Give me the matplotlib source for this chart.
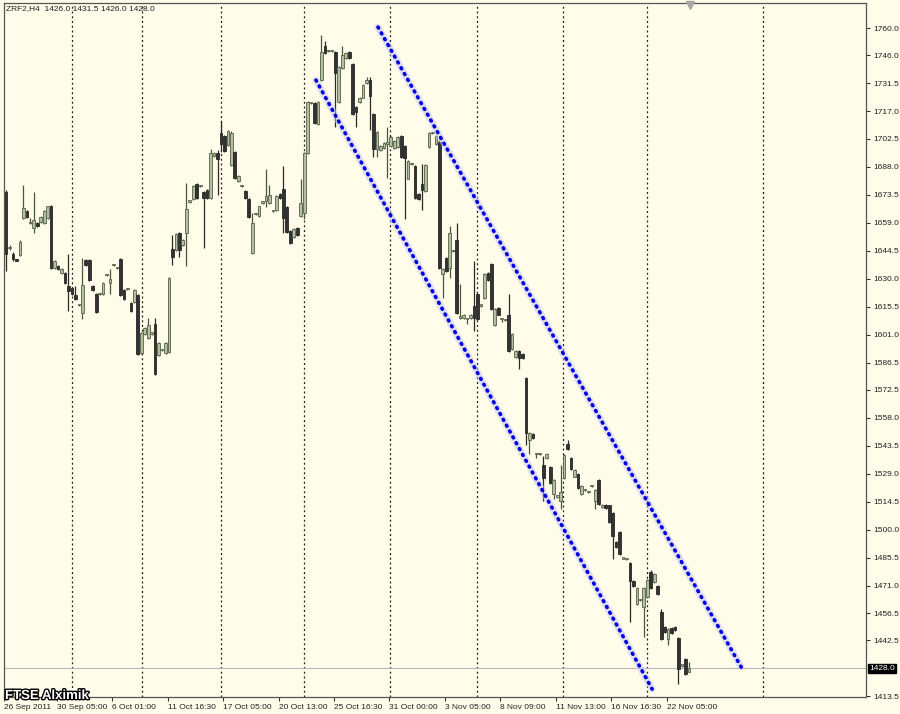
from matplotlib import pyplot as plt
from matplotlib import patheffects as pe
from matplotlib import transforms as mtransforms

# ZRF2 H4 candles, oldest first (bar index = position on the x axis)
opens = [1675, 1646, 1643, 1640, 1642.5, 1661.5, 1665, 1659, 1656.5, 1659,
         1659.5, 1659, 1661.5, 1667.5, 1635.5, 1636.5, 1633, 1633, 1626.5, 1625,
         1621.5, 1616.5, 1612.5, 1640, 1640, 1626.5, 1622, 1622, 1622, 1632,
         1628, 1637, 1635.5, 1640.5, 1624, 1624.5, 1617.5, 1618, 1621.5, 1591.5,
         1601.5, 1599.5, 1601.5, 1606.5, 1590.5, 1593, 1591.5, 1592, 1645.5, 1645,
         1654, 1647.5, 1654, 1670, 1671.5, 1679, 1678, 1675, 1676, 1672,
         1693.5, 1695, 1705.5, 1704, 1699.5, 1689, 1696, 1680.5, 1678, 1675.5,
         1671.5, 1643.5, 1663.5, 1662.5, 1669.5, 1670.5, 1669.5, 1665, 1665.5, 1674,
         1676.5, 1667, 1655, 1651.5, 1656.5, 1662.5, 1664, 1695, 1721, 1721,
         1710.5, 1733, 1750.5, 1748, 1748, 1747.5, 1721.5, 1739.5, 1744.5, 1747.5,
         1741.5, 1719, 1721.5, 1724, 1731.5, 1733, 1715.5, 1697.5, 1697, 1698,
         1700, 1699, 1698, 1698.5, 1704, 1699, 1682, 1689.5, 1688.5, 1674,
         1679, 1675.5, 1698.5, 1705.5, 1700, 1701, 1632.5, 1641, 1635.5, 1644.5,
         1650, 1609.5, 1609.5, 1609, 1609.5, 1616, 1622, 1616, 1620, 1633,
         1637.5, 1606, 1615, 1609, 1608.5, 1611.5, 1593.5, 1589.5, 1592.5, 1591,
         1578.5, 1546.5, 1549.5, 1539, 1539, 1533.5, 1537, 1532.5, 1518.5, 1517,
         1515, 1526.5, 1544.5, 1537, 1527.5, 1529, 1518.5, 1520.5, 1519.5, 1522.5,
         1515, 1525.5, 1511.5, 1513, 1512.5, 1508.5, 1493.5, 1499, 1485, 1484.5,
         1482.5, 1473.5, 1461.5, 1463.5, 1460, 1465, 1478, 1473, 1471, 1457.5,
         1449.5, 1443.5, 1449, 1449.5, 1444, 1429.5, 1433, 1426]
highs = [1676, 1647.5, 1644, 1640.5, 1650, 1678.5, 1665.5, 1661.5, 1675, 1659.5,
         1662.5, 1665.5, 1668, 1668.5, 1640, 1637, 1635.5, 1633.5, 1643, 1625.5,
         1626.5, 1617, 1641, 1640.5, 1640.5, 1627, 1622.5, 1622.5, 1628.5, 1632.5,
         1635, 1637.5, 1636, 1641, 1624.5, 1625, 1618, 1624.5, 1622, 1602.5,
         1605, 1609.5, 1602, 1609.5, 1597, 1593.5, 1597, 1631, 1652.5, 1653.5,
         1654.5, 1650.5, 1679.5, 1670.5, 1678.5, 1679.5, 1678.5, 1675.5, 1676.5, 1697.5,
         1695.5, 1697, 1712, 1704.5, 1707, 1706.5, 1696.5, 1684, 1678.5, 1676,
         1672, 1664, 1664, 1668, 1670, 1687, 1678.5, 1665.5, 1673.5, 1674.5,
         1688.5, 1667.5, 1655.5, 1656.5, 1657, 1682, 1695.5, 1722, 1721.5, 1721.5,
         1722, 1756.5, 1753.5, 1748.5, 1748.5, 1748, 1740.5, 1750.5, 1747.5, 1748,
         1742, 1719.5, 1724.5, 1731, 1734.5, 1734.5, 1716, 1706.5, 1699.5, 1701,
         1708.5, 1704, 1702, 1704, 1704.5, 1699.5, 1691.5, 1690, 1689, 1674.5,
         1689.5, 1689.5, 1706, 1706, 1704.5, 1702, 1635.5, 1641.5, 1657.5, 1645,
         1659, 1627.5, 1612, 1609.5, 1612, 1639.5, 1622.5, 1616.5, 1633, 1633.5,
         1638, 1615, 1615.5, 1609.5, 1609, 1622, 1602, 1593, 1593, 1591.5,
         1579, 1550.5, 1550, 1539.5, 1539.5, 1538, 1539.5, 1533, 1526, 1517.5,
         1533.5, 1539, 1546.5, 1537.5, 1531.5, 1529.5, 1523, 1521, 1520, 1523,
         1521, 1526, 1513.5, 1513.5, 1513, 1509, 1494, 1499.5, 1485.5, 1485,
         1483, 1474, 1470, 1464, 1470, 1474.5, 1479, 1477.5, 1471.5, 1459,
         1450, 1449, 1449.5, 1450, 1444.5, 1430, 1433.5, 1431.5]
lows = [1634, 1645, 1639.5, 1639, 1642, 1661, 1661.5, 1658.5, 1654, 1657,
        1659, 1658.5, 1661, 1635, 1635, 1634.5, 1632.5, 1627.5, 1613.5, 1621.5,
        1619, 1616, 1609, 1636.5, 1629, 1623.5, 1612.5, 1621.5, 1621.5, 1631.5,
        1622, 1636.5, 1635, 1621, 1619, 1624, 1613, 1617.5, 1590.5, 1591,
        1601, 1599, 1601, 1580, 1590, 1592.5, 1591, 1591.5, 1637, 1644.5,
        1641.5, 1647, 1636.5, 1669.5, 1671, 1671.5, 1677.5, 1646, 1671.5, 1671.5,
        1693, 1673.5, 1695.5, 1696, 1699, 1688.5, 1682, 1680, 1677.5, 1671.5,
        1661.5, 1643, 1663, 1662, 1669, 1667, 1669, 1664.5, 1665, 1671.5,
        1654, 1654, 1648, 1651, 1652, 1662, 1661, 1694.5, 1720.5, 1710.5,
        1710, 1732.5, 1746.5, 1747.5, 1747.5, 1708.5, 1721, 1739, 1744, 1744,
        1715, 1708.5, 1721, 1723.5, 1731, 1707, 1693, 1693, 1696.5, 1697.5,
        1682.5, 1698.5, 1697.5, 1698, 1692.5, 1661, 1681.5, 1689, 1671.5, 1671,
        1665.5, 1675, 1698, 1705, 1699.5, 1635, 1620, 1633.5, 1630.5, 1644,
        1612, 1609, 1609, 1606.5, 1609, 1603, 1608.5, 1615.5, 1619.5, 1629,
        1614, 1605.5, 1611, 1607.5, 1608, 1592, 1593, 1589, 1583.5, 1588.5,
        1544, 1539, 1547, 1537, 1538.5, 1515, 1536.5, 1523.5, 1516, 1516.5,
        1510.5, 1526, 1541.5, 1531, 1527, 1521, 1518, 1520, 1519, 1522,
        1510.5, 1513, 1511, 1510.5, 1503.5, 1484.5, 1490.5, 1487, 1484.5, 1484,
        1452, 1470, 1461, 1463, 1444.5, 1464.5, 1469, 1472.5, 1466, 1443,
        1446.5, 1440, 1446, 1447.5, 1420, 1429, 1424.5, 1426]
closes = [1643, 1646, 1640.5, 1639.5, 1649, 1666.5, 1662, 1659, 1660.5, 1657.5,
          1662, 1665, 1667.5, 1635.5, 1639.5, 1635, 1635, 1628, 1623.5, 1622,
          1619.5, 1616.5, 1627, 1637, 1629.5, 1624, 1613, 1622, 1628, 1632,
          1630, 1637, 1635.5, 1621.5, 1619.5, 1624.5, 1613.5, 1624, 1591, 1602,
          1604.5, 1606, 1601.5, 1580.5, 1596.5, 1593, 1596.5, 1630.5, 1641.5, 1653,
          1645, 1650, 1666, 1670, 1678, 1672, 1678, 1672, 1672, 1695,
          1695, 1692, 1700, 1696.5, 1706.5, 1705.5, 1682.5, 1683.5, 1678, 1672,
          1662, 1659, 1663.5, 1667.5, 1669.5, 1673, 1673.5, 1665, 1673, 1672,
          1661.5, 1654.5, 1648.5, 1656, 1652.5, 1669.5, 1695, 1721.5, 1721, 1711,
          1721.5, 1747.5, 1747, 1748, 1748, 1736.5, 1740, 1746, 1747, 1744.5,
          1715.5, 1716.5, 1724, 1730.5, 1733, 1725, 1697.5, 1706, 1699, 1700.5,
          1700, 1703.5, 1701.5, 1703.5, 1693, 1692.5, 1691, 1689.5, 1672, 1671.5,
          1676, 1689, 1705.5, 1705.5, 1704, 1635.5, 1635, 1634, 1653.5, 1644.5,
          1612.5, 1610.5, 1611.5, 1609, 1611.5, 1609.5, 1609, 1616, 1632.5, 1629.5,
          1614.5, 1614.5, 1611.5, 1609, 1608.5, 1592.5, 1601.5, 1592.5, 1589, 1589,
          1550, 1550, 1547.5, 1539, 1539, 1526.5, 1539, 1524, 1525.5, 1517,
          1519.5, 1538.5, 1542, 1531.5, 1531, 1521.5, 1522.5, 1520.5, 1519.5, 1522.5,
          1520.5, 1513.5, 1513, 1511, 1504, 1496.5, 1491, 1487.5, 1485, 1484.5,
          1473.5, 1470.5, 1469.5, 1463.5, 1469.5, 1474, 1469.5, 1477, 1466.5, 1443.5,
          1447, 1448.5, 1446.5, 1448, 1427.5, 1429.5, 1425, 1428]

# weekly period separators (bar positions)
separators = [19.1, 39.2, 62.0, 86.0, 110.8, 135.8, 160.8, 184.8, 218.5]

# time axis labels and their bar positions
date_pos = [-0.6, 14.6, 30.6, 46.6, 62.6, 78.6, 94.6, 110.6, 126.6, 142.6, 158.6, 174.6, 190.6]
date_labels = ["26 Sep 2011", "30 Sep 05:00", "6 Oct 01:00", "11 Oct 16:30", "17 Oct 05:00",
               "20 Oct 13:00", "25 Oct 16:30", "31 Oct 00:00", "3 Nov 05:00", "8 Nov 09:00",
               "11 Nov 13:00", "16 Nov 16:30", "22 Nov 05:00"]

price_ticks = [1760.0, 1746.0, 1731.5, 1717.0, 1702.5, 1688.0, 1673.5, 1659.0, 1644.5,
               1630.0, 1615.5, 1601.0, 1586.5, 1572.5, 1558.0, 1543.5, 1529.0, 1514.5,
               1500.0, 1485.5, 1471.0, 1456.5, 1442.5, 1413.5]

# hand drawn channel (bar position, price)
channel_low = ([89.4, 186.4], [1733.0, 1417.3])
channel_high = ([107.3, 212.1], [1760.5, 1428.7])

bid = closes[-1]

bg = '#fffcea'
plt.rcParams['font.family'] = ['Liberation Sans', 'DejaVu Sans']

fig = plt.figure(figsize=(9, 7.14), dpi=100)
fig.patch.set_facecolor(bg)
ax = fig.add_axes([4 / 900, 17 / 714, 862 / 900, 694 / 714])
ax.set_facecolor(bg)

# separators and bid line
for s in separators:
    ax.axvline(s, color='#222222', lw=0.9, ls=(0, (1.6, 2.2)), zorder=1)
ax.axhline(bid, color='#b8b8b8', lw=0.8, zorder=1)

# candles
x = list(range(len(opens)))
bull = [c >= o for o, c in zip(opens, closes)]
body_low = [min(o, c) for o, c in zip(opens, closes)]
body_h = [max(abs(c - o), 0.7) for o, c in zip(opens, closes)]
wick_col = ['#4a5540' if b else '#2a2a2a' for b in bull]
ax.vlines(x, lows, highs, colors=wick_col, lw=0.9, zorder=2)
face = ['#b3bf9f' if b else '#333333' for b in bull]
edge = ['#56614b' if b else '#262626' for b in bull]
ax.bar(x, body_h, bottom=body_low, width=0.78, color=face, edgecolor=edge,
       linewidth=0.6, zorder=3)

# channel lines: soft halo under blue dots
for xs, ys in (channel_low, channel_high):
    ax.plot(xs, ys, color='#c4c4f2', lw=5.0, alpha=0.5, solid_capstyle='round', zorder=4)
    ax.plot(xs, ys, color='#0000e0', lw=2.6, ls=(0, (0.3, 1.55)),
            dash_capstyle='round', zorder=5)

ax.set_xlim(-0.58, 248.1)
ax.set_ylim(1413.2, 1773.0)

ax.yaxis.tick_right()
ax.set_yticks(price_ticks)
ax.set_yticklabels(['%.1f' % p for p in price_ticks])
ax.set_xticks(date_pos)
ax.set_xticklabels(date_labels, ha='left')
ax.tick_params(axis='both', direction='out', length=3, width=0.8, colors='#333333',
               labelsize=6, labelcolor='#222222', pad=2)
for sp in ax.spines.values():
    sp.set_color('#555555')
    sp.set_linewidth(0.9)

# bid price label
trans = mtransforms.blended_transform_factory(ax.transAxes, ax.transData)
ax.text(1.004, bid, '%.1f' % bid, transform=trans, fontsize=6, color='white',
        va='center', ha='left', zorder=10,
        bbox=dict(boxstyle='square,pad=0.15', fc='black', ec='black'))

# chart shift marker
ax.plot([0.796], [0.997], marker='v', ms=6, color='#a8a8a8', transform=ax.transAxes,
        clip_on=False, zorder=10)

# header and watermark
fig.text(6 / 900, 1 - 9 / 714,
         'ZRF2,H4  %.1f %.1f %.1f %.1f' % (opens[-1], highs[-1], lows[-1], closes[-1]),
         fontsize=6, color='#222222', va='center', ha='left')
fig.text(5 / 900, 1 - 696 / 714, 'FTSE Alximik', fontsize=9.5, fontweight='bold',
         color='white', va='center', ha='left',
         path_effects=[pe.withStroke(linewidth=2, foreground='black')])

plt.savefig('out.png', dpi=100, facecolor=bg)
